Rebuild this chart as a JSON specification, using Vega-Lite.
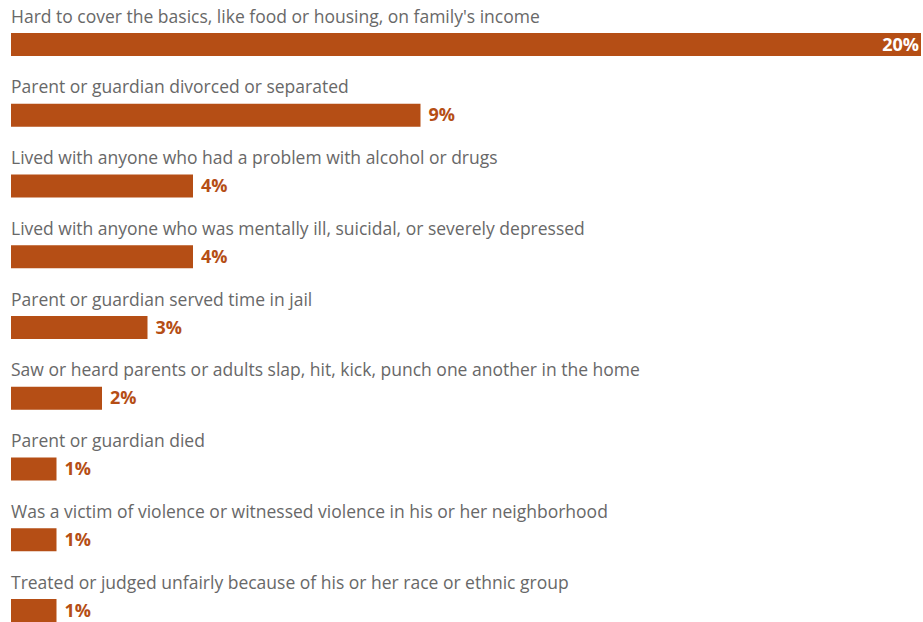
{
  "$schema": "https://vega.github.io/schema/vega-lite/v6.json",
  "width": 910,
  "height": 622,
  "autosize": "none",
  "padding": {"left": 11, "top": 0, "right": 2, "bottom": 0},
  "background": "white",
  "config": {"view": {"stroke": null}},
  "data": {"values": [
    {"i": 0, "label": "Hard to cover the basics, like food or housing, on family's income", "value": 20},
    {"i": 1, "label": "Parent or guardian divorced or separated", "value": 9},
    {"i": 2, "label": "Lived with anyone who had a problem with alcohol or drugs", "value": 4},
    {"i": 3, "label": "Lived with anyone who was mentally ill, suicidal, or severely depressed", "value": 4},
    {"i": 4, "label": "Parent or guardian served time in jail", "value": 3},
    {"i": 5, "label": "Saw or heard parents or adults slap, hit, kick, punch one another in the home", "value": 2},
    {"i": 6, "label": "Parent or guardian died", "value": 1},
    {"i": 7, "label": "Was a victim of violence or witnessed violence in his or her neighborhood", "value": 1},
    {"i": 8, "label": "Treated or judged unfairly because of his or her race or ethnic group", "value": 1}
  ]},
  "transform": [{"calculate": "datum.value + '%'", "as": "valueText"}],
  "encoding": {
    "y": {"field": "i", "type": "quantitative", "axis": null,
          "scale": {"domain": [-0.629, 8.163], "reverse": true, "nice": false, "zero": false, "padding": 0}}
  },
  "layer": [
    {
      "mark": {"type": "bar", "orient": "horizontal", "height": 23, "color": "#B54E15"},
      "encoding": {
        "x": {"field": "value", "type": "quantitative", "axis": null,
              "scale": {"domain": [0, 20], "nice": false, "padding": 0}}
      }
    },
    {
      "mark": {"type": "text", "align": "left", "baseline": "alphabetic", "dy": -21.8,
               "font": "Open Sans", "fontSize": 17.5, "color": "#686868"},
      "encoding": {
        "x": {"datum": 0, "type": "quantitative"},
        "text": {"field": "label"}
      }
    },
    {
      "transform": [{"filter": "datum.value < 20"}],
      "mark": {"type": "text", "align": "left", "baseline": "alphabetic", "dx": 8, "dy": 6.2,
               "font": "Open Sans", "fontSize": 18, "fontWeight": "bold", "color": "#B54E15"},
      "encoding": {
        "x": {"field": "value", "type": "quantitative"},
        "text": {"field": "valueText"}
      }
    },
    {
      "transform": [{"filter": "datum.value >= 20"}],
      "mark": {"type": "text", "align": "right", "baseline": "alphabetic", "dx": -2, "dy": 6.2,
               "font": "Open Sans", "fontSize": 18, "fontWeight": "bold", "color": "#FFFFFF"},
      "encoding": {
        "x": {"field": "value", "type": "quantitative"},
        "text": {"field": "valueText"}
      }
    }
  ]
}
